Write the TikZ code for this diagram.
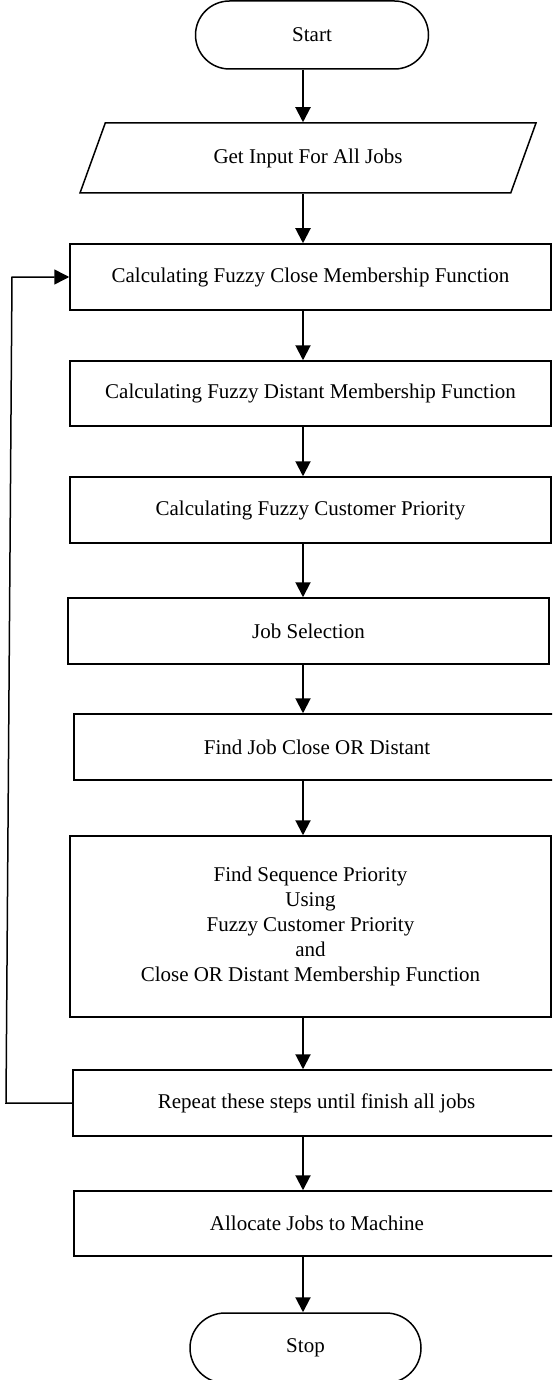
\documentclass[tikz,border=0pt]{standalone}
\usepackage{fontspec}
\setmainfont{Liberation Serif}
\usetikzlibrary{arrows.meta,shapes.geometric}

\begin{document}
\begin{tikzpicture}[x=1pt,y=-1pt,>={Triangle[width=15pt,length=15pt]},
  every node/.style={font=\fontsize{21}{25}\selectfont},
  process/.style={draw,line width=1.5pt,minimum height=66pt,inner sep=0pt,align=center},
  terminal/.style={draw,line width=1.5pt,rounded corners=34pt,minimum width=233pt,minimum height=68pt},
  flow/.style={->,line width=2pt}]
  \useasboundingbox (0,0) rectangle (552,1380);
  \clip (0,0) rectangle (552,1380);
  \coordinate (axis) at (303,0);
  % start and input
  \node[terminal] (start) at (312,35) {Start};
  \node[draw,line width=1.5pt,trapezium,trapezium left angle=37,trapezium right angle=143,
    trapezium stretches body,minimum width=456pt,minimum height=70pt,inner sep=0pt] (input) at (308,158) {Get Input For All Jobs};
  % processing steps
  \node[process,minimum width=481pt] (close) at (310.5,277) {Calculating Fuzzy Close Membership Function};
  \node[process,minimum width=481pt,minimum height=65pt] (distant) at (310.5,393.5) {Calculating Fuzzy Distant Membership Function};
  \node[process,minimum width=481pt] (customer) at (310.5,510) {Calculating Fuzzy Customer Priority};
  \node[process,minimum width=481pt] (select) at (308.5,631) {Job Selection};
  \node[process,minimum width=486pt] (find) at (317,747) {Find Job Close OR Distant};
  \node[process,minimum width=481pt,minimum height=181pt] (sequence) at (310.5,926.5)
    {Find Sequence Priority\\Using\\Fuzzy Customer Priority\\and\\Close OR Distant Membership Function};
  \node[process,minimum width=487pt] (repeat) at (316.5,1103) {Repeat these steps until finish all jobs};
  \node[process,minimum width=486pt,minimum height=65pt] (allocate) at (317,1223.5) {Allocate Jobs to Machine};
  \node[terminal,minimum width=231pt,minimum height=70pt,rounded corners=35pt] (stop) at (305.5,1348) {Stop};
  % connectors
  \draw[flow] (start.south -| axis) -- (input.north -| axis);
  \draw[flow] (input.south -| axis) -- (close.north -| axis);
  \draw[flow] (close.south -| axis) -- (distant.north -| axis);
  \draw[flow] (distant.south -| axis) -- (customer.north -| axis);
  \draw[flow] (customer.south -| axis) -- (select.north -| axis);
  \draw[flow] (select.south -| axis) -- (find.north -| axis);
  \draw[flow] (find.south -| axis) -- (sequence.north -| axis);
  \draw[flow] (sequence.south -| axis) -- (repeat.north -| axis);
  \draw[flow] (repeat.south -| axis) -- (allocate.north -| axis);
  \draw[flow] (allocate.south -| axis) -- (stop.north -| axis);
  % loop back
  \coordinate (loopb) at (6,1103);
  \coordinate (loopt) at (12,277);
  \draw[line width=1.5pt,->] (repeat.west) -- (loopb) -- (loopt) -- (close.west);
\end{tikzpicture}
\end{document}
